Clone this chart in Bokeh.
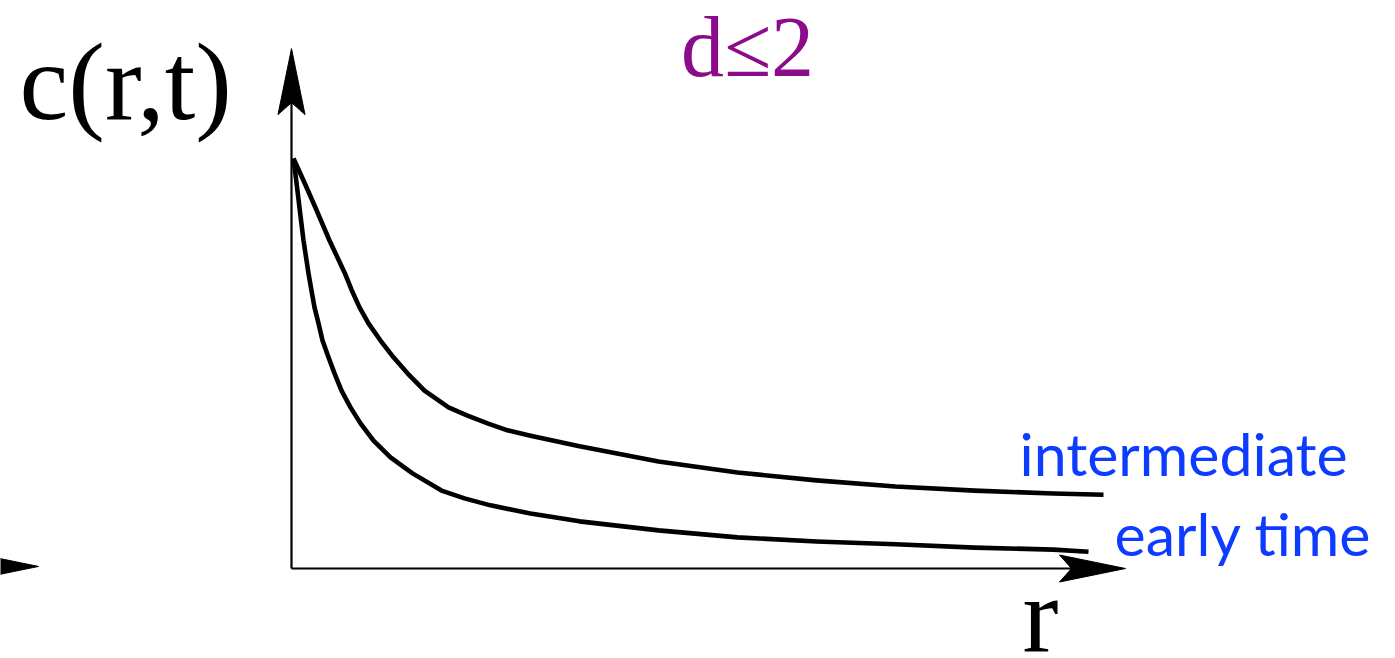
from bokeh.plotting import figure
from bokeh.models import Range1d, Label
from bokeh.embed import file_html
from bokeh.resources import INLINE

# ---- data (r, c(r,t)) ----
r_intermediate = [0.02, 0.13, 0.24, 0.38, 0.53, 0.60, 0.68, 0.77, 0.89, 1.02, 1.16, 1.33,
                  1.57, 1.76, 1.96, 2.16, 2.39, 2.88, 3.67, 4.46, 5.25, 6.04, 6.83, 7.62, 8.12]
c_intermediate = [1.000, 0.941, 0.880, 0.800, 0.722, 0.680, 0.637, 0.598, 0.556, 0.515, 0.476, 0.434,
                  0.393, 0.373, 0.354, 0.337, 0.324, 0.298, 0.261, 0.234, 0.215, 0.200, 0.190, 0.183, 0.180]

r_early = [0.02, 0.05, 0.08, 0.12, 0.17, 0.20, 0.23, 0.27, 0.31, 0.37, 0.43, 0.50, 0.59, 0.69,
           0.82, 0.99, 1.21, 1.50, 1.73, 1.99, 2.39, 2.88, 3.67, 4.46, 5.25, 6.04, 6.83, 7.62, 7.97]
c_early = [1.000, 0.941, 0.880, 0.800, 0.720, 0.678, 0.637, 0.598, 0.556, 0.515, 0.476, 0.434, 0.393, 0.354,
           0.312, 0.271, 0.232, 0.190, 0.171, 0.154, 0.134, 0.115, 0.093, 0.076, 0.066, 0.059, 0.051, 0.046, 0.041]

r_axis_end = 8.34     # tip of r arrow
c_axis_end = 1.268    # tip of c arrow
r_prev_arrow = -2.53  # tip of the partial arrow on the left edge

title_text = "d\u22642"
y_label = "c(r,t)"
x_label = "r"
series_labels = ["intermediate", "early time"]

# ---- layout ----
W, H = 1395, 658
XS, YS = 100.0, 410.0   # pixels per data unit
x0 = -2.91
y0 = -90 / YS
x1, y1 = x0 + W / XS, y0 + H / YS

p = figure(width=W, height=H, output_backend="svg", toolbar_location=None,
           x_range=Range1d(x0, x1), y_range=Range1d(y0, y1),
           min_border=0, x_axis_location=None, y_axis_location=None)
p.grid.visible = False
p.outline_line_color = None
p.background_fill_color = "white"
p.border_fill_color = "white"

# axes lines
p.line([0, 0], [0, c_axis_end - 40 / YS], line_color="black", line_width=2.2)
p.line([0, r_axis_end - 40 / XS], [0, 0], line_color="black", line_width=2.2)

def arrow(tx, ty, direction):
    L, Wd, N = 66, 13.5, 54
    if direction == "up":
        xs = [tx, tx - Wd / XS, tx, tx + Wd / XS]
        ys = [ty, ty - L / YS, ty - N / YS, ty - L / YS]
    else:
        xs = [tx, tx - L / XS, tx - N / XS, tx - L / XS]
        ys = [ty, ty + Wd / YS, ty, ty - Wd / YS]
    p.patch(xs, ys, fill_color="black", line_color="black", line_width=1)

arrow(0, c_axis_end, "up")
arrow(r_axis_end, 0, "right")
arrow(r_prev_arrow, 0.005, "right")

# curves
p.line(r_intermediate, c_intermediate, line_color="black", line_width=4.6, line_join="round")
p.line(r_early, c_early, line_color="black", line_width=4.6, line_join="round")

serif = "Liberation Serif"
sans = "Lato"

def label(x, y_base, text, font, size, color, align="left"):
    # compensate the renderer's baseline offset (~0.37 em)
    y = y_base + 0.37 * size / YS
    p.add_layout(Label(x=x, y=y, text=text, text_font=font, text_font_size=f"{size}px",
                       text_color=color, text_baseline="alphabetic", text_align=align))

label(-2.72, 1.088, y_label, serif, 110, "black")
label(7.31, -0.212, x_label, serif, 108, "black")
label(4.56, 1.195, title_text, serif, 86, "#8B0B8B", "center")
label(7.28, 0.2268, series_labels[0], sans, 59, "#0D3BFF")
label(8.23, 0.0317, series_labels[1], sans, 59, "#0D3BFF")

open("out.html", "w").write(file_html(p, INLINE))
